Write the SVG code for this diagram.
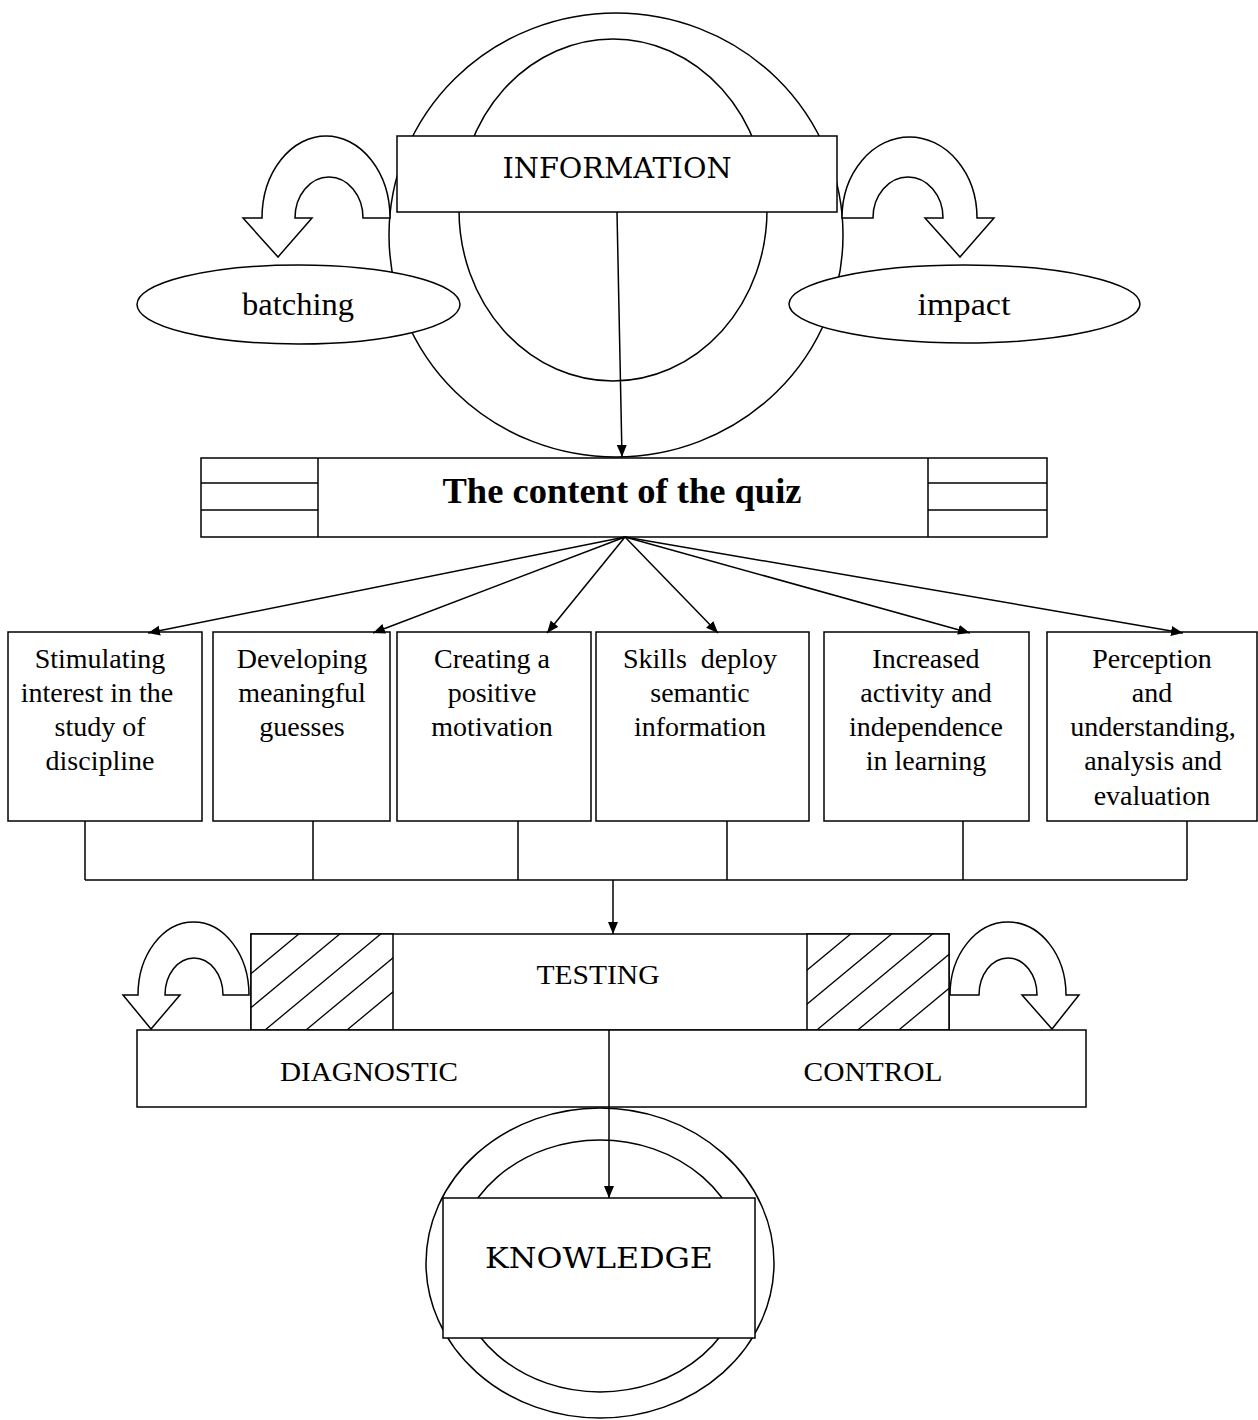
<svg xmlns="http://www.w3.org/2000/svg" width="1258" height="1420" viewBox="0 0 1258 1420">
<style>
.s{fill:none;stroke:#000;stroke-width:1.5}
.w{fill:#fff;stroke:#000;stroke-width:1.5}
.h{stroke:#000;stroke-width:1.3;fill:none}
.t{font-family:"Liberation Serif","Times New Roman",serif;font-size:28px;fill:#000;text-anchor:middle}
.big{font-family:"DejaVu Serif",serif;font-size:28px;fill:#000;text-anchor:middle}
.mid{font-family:"Liberation Serif",serif;font-size:27px;fill:#000;text-anchor:middle}
.ell{font-family:"Liberation Serif",serif;font-size:31px;fill:#000;text-anchor:middle}
.c{fill:none;stroke:#000;stroke-width:1.5;marker-end:url(#ah)}
</style>
<defs>
<marker id="ah" markerUnits="userSpaceOnUse" markerWidth="12" markerHeight="12" refX="12" refY="5" orient="auto">
<path d="M0,0 L12,5 L0,10 Z" fill="#000"/>
</marker>
<clipPath id="hl"><rect x="251" y="934" width="142" height="96"/></clipPath>
<clipPath id="hr"><rect x="807" y="934" width="142" height="96"/></clipPath>
</defs>
<rect width="1258" height="1420" fill="#fff"/>

<g id="info-circles">
<ellipse class="s" cx="616" cy="235" rx="227" ry="222"/>
<ellipse class="s" cx="613" cy="210" rx="154" ry="171"/>
</g>
<g id="information">
<rect class="w" x="397" y="136" width="440" height="76"/>
<text class="big" x="617" y="178" textLength="229" lengthAdjust="spacingAndGlyphs">INFORMATION</text>
</g>
<g id="arrow-batching">
<path class="w" d="M 390,218 A 64,82 0 0 0 262,218 L 243,218 L 278,257 L 312,218 L 295,218 A 34,41 0 0 1 363,218 Z"/>
</g>
<g id="arrow-impact">
<path class="w" d="M 842,218 A 67.5,81 0 0 1 977,218 L 994,218 L 960,257 L 925,218 L 943,218 A 35,41 0 0 0 873,218 Z"/>
</g>
<g id="batching">
<ellipse class="w" cx="298.5" cy="304.5" rx="161.5" ry="39.5"/>
<text class="ell" x="298" y="315" textLength="112" lengthAdjust="spacingAndGlyphs">batching</text>
</g>
<g id="impact">
<ellipse class="w" cx="964.5" cy="304" rx="175.5" ry="39"/>
<text class="ell" x="964" y="315" textLength="93" lengthAdjust="spacingAndGlyphs">impact</text>
</g>

<g id="quiz">
<rect class="w" x="201" y="458" width="846" height="79"/>
<line class="s" x1="318" y1="458" x2="318" y2="537"/>
<line class="s" x1="928" y1="458" x2="928" y2="537"/>
<line class="s" x1="201" y1="483" x2="318" y2="483"/>
<line class="s" x1="201" y1="510" x2="318" y2="510"/>
<line class="s" x1="928" y1="483" x2="1047" y2="483"/>
<line class="s" x1="928" y1="510" x2="1047" y2="510"/>
<text x="622" y="503" font-family="'Liberation Serif',serif" font-size="36" font-weight="bold" text-anchor="middle" textLength="359" lengthAdjust="spacingAndGlyphs">The content of the quiz</text>
</g>

<g id="box1">
<rect class="w" x="8" y="632" width="194" height="189"/>
<text class="t" x="100" y="668">Stimulating</text>
<text class="t" x="97" y="702">interest in the</text>
<text class="t" x="100" y="736">study of</text>
<text class="t" x="100" y="770">discipline</text>
</g>
<g id="box2">
<rect class="w" x="213" y="632" width="177" height="189"/>
<text class="t" x="302" y="668">Developing</text>
<text class="t" x="302" y="702">meaningful</text>
<text class="t" x="302" y="736">guesses</text>
</g>
<g id="box3">
<rect class="w" x="397" y="632" width="194" height="189"/>
<text class="t" x="492" y="668">Creating a</text>
<text class="t" x="492" y="702">positive</text>
<text class="t" x="492" y="736">motivation</text>
</g>
<g id="box4">
<rect class="w" x="596" y="632" width="213" height="189"/>
<text class="t" x="700" y="668" xml:space="preserve">Skills  deploy</text>
<text class="t" x="700" y="702">semantic</text>
<text class="t" x="700" y="736">information</text>
</g>
<g id="box5">
<rect class="w" x="824" y="632" width="205" height="189"/>
<text class="t" x="926" y="668">Increased</text>
<text class="t" x="926" y="702">activity and</text>
<text class="t" x="926" y="736">independence</text>
<text class="t" x="926" y="770">in learning</text>
</g>
<g id="box6">
<rect class="w" x="1047" y="632" width="210" height="189"/>
<text class="t" x="1152" y="668">Perception</text>
<text class="t" x="1152" y="702">and</text>
<text class="t" x="1153" y="736">understanding,</text>
<text class="t" x="1153" y="770">analysis and</text>
<text class="t" x="1152" y="805">evaluation</text>
</g>

<g id="testing">
<rect class="w" x="251" y="934" width="698" height="96"/>
<rect class="w" x="251" y="934" width="142" height="96"/>
<rect class="w" x="807" y="934" width="142" height="96"/>
<g clip-path="url(#hl)">
<line class="h" x1="200" y1="1016" x2="450" y2="808.5"/>
<line class="h" x1="200" y1="1050" x2="450" y2="842.5"/>
<line class="h" x1="200" y1="1084" x2="450" y2="876.5"/>
<line class="h" x1="200" y1="1118" x2="450" y2="910.5"/>
<line class="h" x1="200" y1="1152" x2="450" y2="944.5"/>
</g>
<g clip-path="url(#hr)">
<line class="h" x1="780" y1="992.6" x2="1000" y2="810"/>
<line class="h" x1="780" y1="1026.6" x2="1000" y2="844"/>
<line class="h" x1="780" y1="1060.6" x2="1000" y2="878"/>
<line class="h" x1="780" y1="1094.6" x2="1000" y2="912"/>
<line class="h" x1="780" y1="1128.6" x2="1000" y2="946"/>
</g>
<text class="mid" x="598" y="984" textLength="123" lengthAdjust="spacingAndGlyphs">TESTING</text>
</g>
<g id="arrow-diagnostic">
<path class="w" d="M 249,995 A 55.5,73 0 0 0 138,995 L 123,995 L 151,1029 L 180,995 L 165,995 A 29,37 0 0 1 223,995 Z"/>
</g>
<g id="arrow-control">
<path class="w" d="M 950,995 A 58,73 0 0 1 1066,995 L 1079,995 L 1052,1029 L 1022,995 L 1037,995 A 29,37 0 0 0 979,995 Z"/>
</g>
<g id="diag-control">
<rect class="w" x="137" y="1030" width="949" height="77"/>
<text class="mid" x="369" y="1081" textLength="178" lengthAdjust="spacingAndGlyphs">DIAGNOSTIC</text>
<text class="mid" x="873" y="1081" textLength="139" lengthAdjust="spacingAndGlyphs">CONTROL</text>
</g>

<g id="knowledge">
<ellipse class="s" cx="600" cy="1263" rx="174" ry="155"/>
<ellipse class="s" cx="600" cy="1266" rx="145" ry="126"/>
<rect class="w" x="443" y="1198" width="312" height="140"/>
<text class="big" x="599" y="1268" textLength="228" lengthAdjust="spacingAndGlyphs">KNOWLEDGE</text>
</g>

<g id="connectors">
<line class="c" x1="617" y1="212" x2="622" y2="457"/>
<line class="c" x1="625" y1="537" x2="148" y2="633"/>
<line class="c" x1="625" y1="537" x2="373" y2="633"/>
<line class="c" x1="625" y1="537" x2="547" y2="633"/>
<line class="c" x1="625" y1="537" x2="718" y2="633"/>
<line class="c" x1="625" y1="537" x2="970" y2="633"/>
<line class="c" x1="625" y1="537" x2="1183" y2="633"/>
<path class="s" d="M85,821 V880 M313,821 V880 M518,821 V880 M727,821 V880 M963,821 V880 M1187,821 V880 M85,880 H1187"/>
<line class="c" x1="613" y1="880" x2="613" y2="934"/>
<line class="c" x1="609" y1="1030" x2="609" y2="1198"/>
</g>
</svg>
